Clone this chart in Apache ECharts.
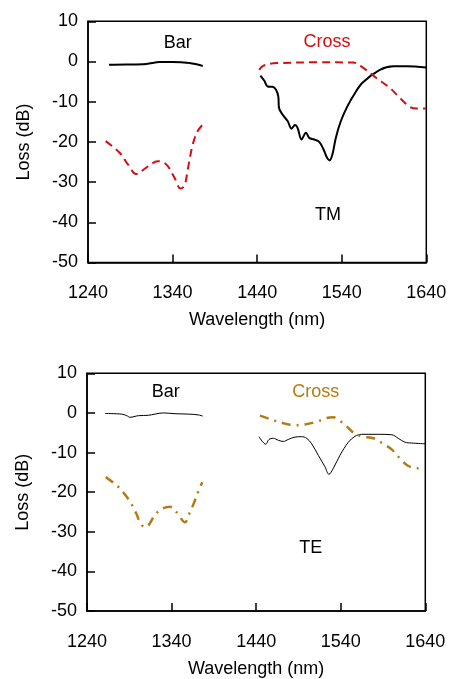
<!DOCTYPE html>
<html><head><meta charset="utf-8">
<script src="https://cdn.jsdelivr.net/npm/echarts@6/dist/echarts.min.js"></script>
<style>html,body{margin:0;padding:0;background:#fff}#c{width:450px;height:679px}</style>
</head><body><div id="c"></div>
<script>
// ---- Data (wavelength nm, loss dB) ----
const xTicks = [1240, 1340, 1440, 1540, 1640];
const yTicks = [10, 0, -10, -20, -30, -40, -50];

// TM panel
const tmBarLeftX  = [1264.8, 1285, 1308.9, 1324.6, 1340.3, 1360, 1375.7];
const tmBarLeftY  = [-0.8, -0.75, -0.6, -0.15, -0.1, -0.4, -1.1];
const tmCrossLeftX = [1260.9, 1277.4, 1287.2, 1297.1, 1308.9, 1322.6, 1332.5, 1342.3, 1349.4, 1354.1, 1358, 1363.9, 1369.8, 1376.5];
const tmCrossLeftY = [-19.8, -22.7, -25.6, -28.0, -26.4, -24.8, -25.6, -28.9, -31.6, -30.9, -26.8, -20.6, -17.3, -15.5];
const tmBarRightX = [1443.8, 1448.5, 1452.4, 1458.3, 1462.3, 1465, 1465.8, 1470, 1476, 1480.7, 1484.7, 1487.8, 1492.5, 1497.7, 1501.6, 1507.5, 1513.4, 1518.5, 1522.5, 1525.6, 1529, 1533, 1539, 1546.8, 1554.7, 1564.5, 1585, 1601, 1617, 1640];
const tmBarRightY = [-3.5, -4.8, -6.2, -6.3, -7.0, -8.7, -11.5, -13.2, -14.8, -16.7, -15.8, -16.5, -19.4, -17.7, -19.0, -19.4, -20.0, -21.9, -23.9, -24.6, -23.1, -19.0, -14.8, -11.1, -8.2, -5.3, -2.1, -1.2, -1.2, -1.5];
const tmCrossRightX = [1442.4, 1447, 1455, 1463, 1510, 1553.6, 1565.5, 1581, 1597, 1609, 1620.7, 1628.6, 1640];
const tmCrossRightY = [-2.1, -1.1, -0.6, -0.4, -0.2, -0.25, -1.6, -4.1, -6.6, -9.1, -11.3, -11.7, -11.7];

// TE panel
const teBarLeftX = [1261.3, 1281, 1287, 1290.8, 1300.7, 1312.5, 1320.4, 1330.2, 1344, 1359.8, 1371.6, 1376.8];
const teBarLeftY = [-0.15, -0.3, -0.7, -1.1, -0.7, -0.6, -0.3, 0.0, -0.2, -0.3, -0.5, -0.8];
const teCrossLeftX = [1262.1, 1275.1, 1284.9, 1292.8, 1298.7, 1302.7, 1308.6, 1313.3, 1318.4, 1326.3, 1338.1, 1346, 1355.9, 1360.6, 1366.5, 1371.6, 1376.3];
const teCrossLeftY = [-16.2, -18.3, -20.6, -23.1, -25.6, -27.6, -28.9, -28.2, -26.4, -24.5, -23.7, -25.1, -27.6, -25.6, -22.7, -19.8, -17.5];
const teBarRightX = [1443.4, 1447.3, 1451.3, 1455.2, 1460.3, 1466.2, 1472.1, 1478, 1485.9, 1493.8, 1499.7, 1505.7, 1513.5, 1521.4, 1526.1, 1531.2, 1539.1, 1549, 1556.9, 1564.8, 1584.4, 1600.3, 1608, 1615.9, 1623.9, 1640];
const teBarRightY = [-6.0, -7.2, -7.9, -6.7, -6.4, -6.9, -7.2, -6.7, -6.1, -6.0, -6.4, -7.8, -10.7, -13.6, -15.5, -14.0, -10.7, -7.4, -5.9, -5.4, -5.4, -5.5, -6.4, -7.4, -7.6, -7.8];
const teCrossRightX = [1444.5, 1458.4, 1474.1, 1486, 1497.7, 1511.6, 1523.4, 1531.2, 1537.1, 1547, 1556.9, 1566.7, 1578.5, 1590.3, 1600.2, 1610, 1619.9, 1631.7, 1635.7];
const teCrossRightY = [-0.7, -1.7, -2.7, -3.1, -2.9, -2.2, -1.3, -1.1, -1.7, -3.4, -5.3, -6.0, -6.4, -7.8, -9.2, -11.5, -13.4, -14.0, -14.1];

const zip = (xs, ys) => xs.map((x, i) => [x, ys[i]]);
const FONT = '"Liberation Sans", Arial, sans-serif';
const FS = 18;
const RED = '#d40f14', GOLD = '#b27c12';

function xAxis(gi) {
  return {
    type: 'value', gridIndex: gi, min: 1240, max: 1640, interval: 100,
    name: 'Wavelength (nm)', nameLocation: 'middle', nameGap: 49,
    nameTextStyle: { fontFamily: FONT, fontSize: FS, color: '#000' },
    axisLine: { onZero: false, lineStyle: { color: '#000', width: 1.5 } },
    axisTick: { inside: true, length: 8, lineStyle: { color: '#000', width: 1.5 } },
    axisLabel: { fontFamily: FONT, fontSize: FS, color: '#000', margin: 22, formatter: v => String(v) },
    splitLine: { show: false }
  };
}
function yAxis(gi) {
  return {
    type: 'value', gridIndex: gi, min: -50, max: 10, interval: 10,
    name: 'Loss (dB)', nameLocation: 'middle', nameGap: 55, nameRotate: 90,
    nameTextStyle: { fontFamily: FONT, fontSize: FS, color: '#000' },
    axisLine: { onZero: false, lineStyle: { color: '#000', width: 1.5 } },
    axisTick: { inside: true, length: 8, lineStyle: { color: '#000', width: 1.5 } },
    axisLabel: { fontFamily: FONT, fontSize: FS, color: '#000', margin: 10, formatter: v => String(v) },
    splitLine: { show: false }
  };
}
function line(gi, xs, ys, color, width, type) {
  return {
    type: 'line', xAxisIndex: gi, yAxisIndex: gi, data: zip(xs, ys),
    smooth: 0.35, showSymbol: false, symbol: 'none', animation: false,
    lineStyle: { color: color, width: width, type: type || 'solid', cap: 'butt' }
  };
}
function txt(x, y, s, color) {
  return { type: 'text', x: x, y: y, style: { text: s, fill: color, font: FS + 'px ' + FONT, textAlign: 'center', textVerticalAlign: 'middle' } };
}

const chart = echarts.init(document.getElementById('c'), null, { renderer: 'canvas' });
chart.setOption({
  animation: false,
  backgroundColor: '#fff',
  grid: [
    { left: 88, top: 21.3, width: 338.3, height: 241.2, show: true, borderColor: '#000', borderWidth: 1.5 },
    { left: 87, top: 373.3, width: 338.3, height: 241.7, show: true, borderColor: '#000', borderWidth: 1.5 }
  ],
  xAxis: [xAxis(0), xAxis(1)],
  yAxis: [yAxis(0), yAxis(1)],
  series: [
    line(0, tmBarLeftX, tmBarLeftY, '#000', 2),
    line(0, tmCrossLeftX, tmCrossLeftY, RED, 2, [8, 5]),
    line(0, tmBarRightX, tmBarRightY, '#000', 2),
    line(0, tmCrossRightX, tmCrossRightY, RED, 2, [8, 5]),
    line(1, teBarLeftX, teBarLeftY, '#000', 1),
    line(1, teCrossLeftX, teCrossLeftY, GOLD, 2.5, [9, 6, 2, 6]),
    line(1, teBarRightX, teBarRightY, '#000', 1),
    line(1, teCrossRightX, teCrossRightY, GOLD, 2.5, [9, 6, 2, 6])
  ],
  graphic: [
    txt(177.7, 42.7, 'Bar', '#000'),
    txt(327, 42, 'Cross', RED),
    txt(328, 215, 'TM', '#000'),
    txt(165.7, 391.7, 'Bar', '#000'),
    txt(315.7, 391.7, 'Cross', GOLD),
    txt(310.7, 548.3, 'TE', '#000')
  ]
});
</script>
</body></html>
